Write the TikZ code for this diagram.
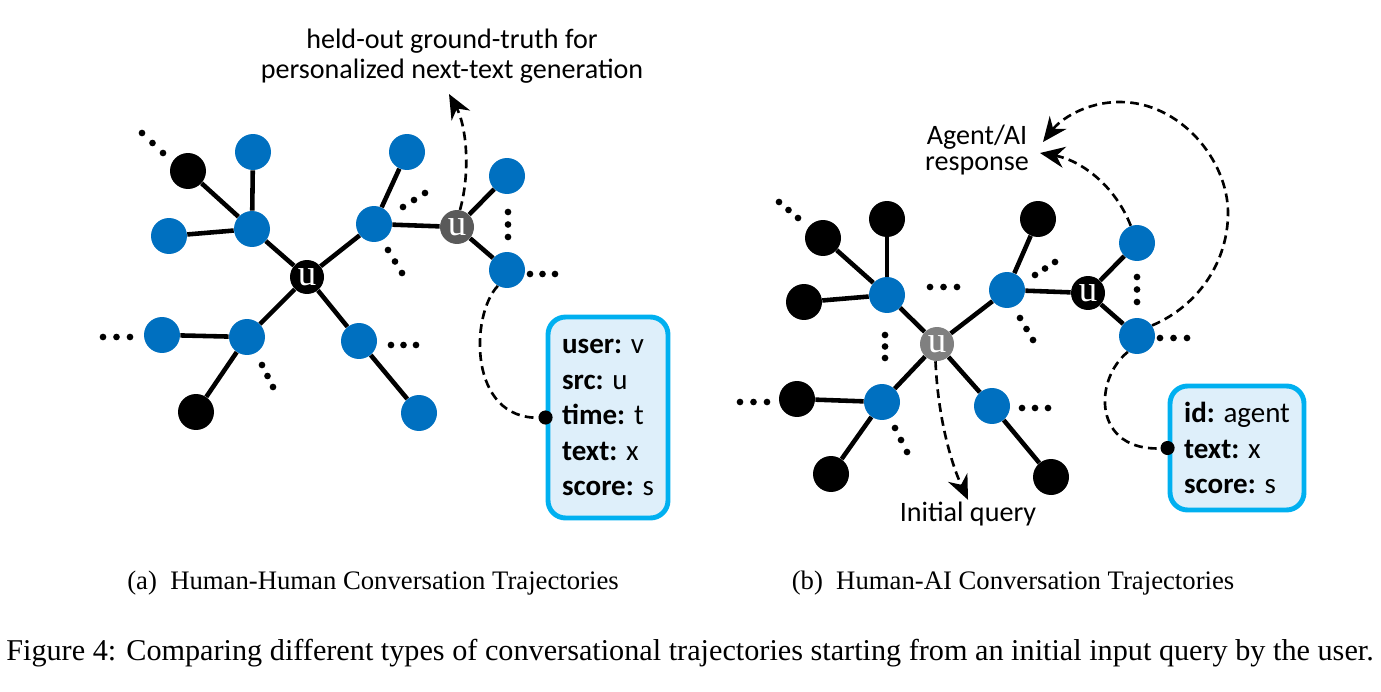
\documentclass[tikz,border=0pt]{standalone}
\usepackage{fontspec}
\setmainfont{Carlito}
\newfontfamily\capfont{Liberation Serif}
\newfontfamily\ufont{Liberation Serif}
\usetikzlibrary{arrows.meta,calc}
\definecolor{nodeblue}{HTML}{0070C0}
\definecolor{boxcyan}{HTML}{00B0F0}
\definecolor{boxfill}{HTML}{DEEFFA}
\definecolor{ugray}{HTML}{5A5A5A}
\definecolor{ugraylt}{HTML}{808080}
% three dots from one end point to the other
\newcommand{\dotrow}[2]{\foreach \t in {0,0.5,1} \fill ($(#1)!\t!(#2)$) circle (1.9pt);}

\begin{document}
\begin{tikzpicture}[
  x=0.02cm, y=-0.02cm,
  bnode/.style={circle, fill=nodeblue, minimum size=0.72cm, inner sep=0pt},
  knode/.style={circle, fill=black, minimum size=0.72cm, inner sep=0pt},
  unode/.style={circle, minimum size=0.68cm, inner sep=0pt, text=white, font=\ufont\fontsize{21}{21}\selectfont},
  edge/.style={draw, line width=2.6pt},
  darrow/.style={draw, line width=1.5pt, dash pattern=on 5pt off 3pt, -{Stealth[length=14pt,width=12pt]}},
  dotlink/.style={draw, line width=1.5pt, dash pattern=on 5pt off 3pt, -{Circle[length=8pt]}, shorten >=-4pt},
  infobox/.style={draw=boxcyan, fill=boxfill, line width=2.8pt, rounded corners=0.35cm, align=left, font=\fontsize{16.5}{20.2}\selectfont},
  lbl/.style={align=center, inner sep=1pt, font=\fontsize{16}{17}\selectfont},
  captext/.style={inner sep=0pt, font=\capfont\fontsize{15.2}{18}\selectfont}
]
  \useasboundingbox (0,0) rectangle (1381,692);

  % (a) human-human
  \node[unode, fill=black] (uL) at (307,277) {u};
  \node[bnode] (la) at (252,229) {};
  \node[bnode] (lb) at (374,224) {};
  \node[bnode] (lc) at (247,337) {};
  \node[bnode] (ld) at (359,341) {};
  \node[knode] (la1) at (188,171) {};
  \node[bnode] (la2) at (253,152) {};
  \node[bnode] (la3) at (169,236) {};
  \node[bnode] (lb1) at (407,152) {};
  \node[unode, fill=ugray] (gL) at (457,227) {u};
  \node[bnode] (g1) at (507,176) {};
  \node[bnode] (g2) at (507,270) {};
  \node[bnode] (lc1) at (162,335) {};
  \node[knode] (lc2) at (196,412) {};
  \node[bnode] (ld1) at (419,413) {};
  \draw[edge] (uL) -- (la);
  \draw[edge] (uL) -- (lb);
  \draw[edge] (uL) -- (lc);
  \draw[edge] (uL) -- (ld);
  \draw[edge] (la) -- (la1);
  \draw[edge] (la) -- (la2);
  \draw[edge] (la) -- (la3);
  \draw[edge] (lb) -- (lb1);
  \draw[edge] (lb) -- (gL);
  \draw[edge] (gL) -- (g1);
  \draw[edge] (gL) -- (g2);
  \draw[edge] (lc) -- (lc1);
  \draw[edge] (lc) -- (lc2);
  \draw[edge] (ld) -- (ld1);
  \dotrow{142,133}{163,153}
  \dotrow{403,207}{425,193}
  \dotrow{388,250}{402,273}
  \dotrow{103,337}{130,337}
  \dotrow{262,365}{273,387}
  \dotrow{391,345}{416,345}
  \dotrow{508,212}{508,237}
  \dotrow{530,274}{555,274}

  \node[lbl] (holbl) at (452,56) {held-out ground-truth for\\personalized next-text generation};
  \coordinate (hotip) at (449,94);
  \draw[darrow] (gL.80) .. controls (471,170) and (466,125) .. (hotip);

  \node[infobox, minimum width=2.4cm, minimum height=4.02cm] (lbox) at (608,417.5)
    {\textbf{user:} v\\\textbf{src:} u\\\textbf{time:} t\\\textbf{text:} x\\\textbf{score:} s};
  \draw[dotlink] (g2.240) .. controls (470,315) and (468,420) .. (lbox.west);

  % (b) human-ai
  \node[unode, fill=ugraylt] (uR) at (937,344) {u};
  \node[bnode] (ra) at (887,295) {};
  \node[bnode] (rb) at (1007,290) {};
  \node[bnode] (rc) at (882,402) {};
  \node[bnode] (rd) at (992,406) {};
  \node[knode] (ra1) at (823,238) {};
  \node[knode] (ra2) at (887,219) {};
  \node[knode] (ra3) at (804,302) {};
  \node[knode] (rb1) at (1038,219) {};
  \node[unode, fill=black] (kR) at (1088,293) {u};
  \node[bnode] (k1) at (1137,243) {};
  \node[bnode] (k2) at (1137,336) {};
  \node[knode] (rc1) at (797,399) {};
  \node[knode] (rc2) at (831,474) {};
  \node[knode] (rd1) at (1051,477) {};
  \draw[edge] (uR) -- (ra);
  \draw[edge] (uR) -- (rb);
  \draw[edge] (uR) -- (rc);
  \draw[edge] (uR) -- (rd);
  \draw[edge] (ra) -- (ra1);
  \draw[edge] (ra) -- (ra2);
  \draw[edge] (ra) -- (ra3);
  \draw[edge] (rb) -- (rb1);
  \draw[edge] (rb) -- (kR);
  \draw[edge] (kR) -- (k1);
  \draw[edge] (kR) -- (k2);
  \draw[edge] (rc) -- (rc1);
  \draw[edge] (rc) -- (rc2);
  \draw[edge] (rd) -- (rd1);
  \dotrow{779,202}{798,218}
  \dotrow{930,287}{957,287}
  \dotrow{885,335}{885,358}
  \dotrow{1035,275}{1055,262}
  \dotrow{1020,318}{1033,340}
  \dotrow{740,402}{767,402}
  \dotrow{895,428}{907,452}
  \dotrow{1022,408}{1048,408}
  \dotrow{1137,277}{1137,302}
  \dotrow{1160,338}{1187,338}

  \node[lbl, font=\fontsize{16}{14.5}\selectfont] (aglbl) at (977,150) {Agent/AI\\response};
  \coordinate (agin1) at (1040,153);
  \coordinate (agin2) at (1043,142);
  \draw[darrow] (k1.110) .. controls (1115,185) and (1080,160) .. (agin1);
  \draw[darrow] (k2.35) .. controls (1200,305) and (1228,260) .. (1228,213)
    .. controls (1228,160) and (1180,102) .. (1120,102)
    .. controls (1085,102) and (1060,120) .. (agin2);

  \node[lbl] (iqlbl) at (968,514) {Initial query};
  \draw[darrow] (uR.265) .. controls (938,420) and (952,465) .. (iqlbl.north);

  \node[infobox, minimum width=2.68cm, minimum height=2.48cm] (rbox) at (1237,448)
    {\textbf{id:} agent\\\textbf{text:} x\\\textbf{score:} s};
  \draw[dotlink] (k2.240) .. controls (1093,380) and (1093,452) .. (rbox.west);

  % captions
  \node[captext] (capa) at (373,583) {(a)\enspace Human-Human Conversation Trajectories};
  \node[captext] (capb) at (1013,583) {(b)\enspace Human-AI Conversation Trajectories};
  \node[captext, font=\capfont\fontsize{17.2}{20}\selectfont] (capfig) at (690,653) {Figure 4: Comparing different types of conversational trajectories starting from an initial input query by the user.};
\end{tikzpicture}
\end{document}
